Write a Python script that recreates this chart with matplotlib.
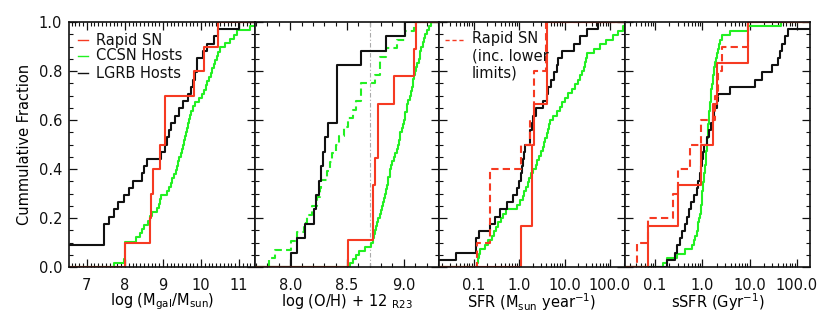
import numpy as np
import matplotlib
matplotlib.use('Agg')
import matplotlib.pyplot as plt
from matplotlib.ticker import MultipleLocator, FixedLocator, FixedFormatter, LogLocator, NullFormatter

plt.rcParams['font.family'] = ['DejaVu Sans']
plt.rcParams['mathtext.fontset'] = 'dejavusans'
plt.rcParams['font.size'] = 10.5

# ---------------- data ----------------
# Panel 1: log stellar mass
mass_rapid = [8.0, 8.65, 8.68, 8.74, 8.91, 9.06, 9.06, 9.81, 10.09, 10.44]
mass_lgrb = [6.0, 6.2, 6.4, 7.45, 7.45, 7.45, 7.57, 7.7, 7.82, 7.97, 8.1, 8.2,
             8.45, 8.5, 8.57, 8.95, 9.05, 9.1, 9.15, 9.22, 9.32, 9.42, 9.52,
             9.65, 9.75, 9.8, 9.85, 9.9, 9.9, 10.05, 10.15, 10.35, 10.45, 11.0]
mass_ccsn = [7.7, 7.97, 8.0, 8.0, 8.0, 8.0, 8.3, 8.4, 8.45, 8.5, 8.6, 8.65, 8.7,
             8.85, 8.9, 8.92, 8.95, 9.1, 9.15, 9.2, 9.25, 9.3, 9.33, 9.37, 9.4,
             9.43, 9.47, 9.5, 9.52, 9.55, 9.57, 9.6, 9.63, 9.66, 9.69, 9.72, 9.75,
             9.78, 9.85, 9.95, 10.02, 10.08, 10.12, 10.17, 10.22, 10.26, 10.3,
             10.34, 10.38, 10.42, 10.46, 10.5, 10.62, 10.75, 10.88, 10.95, 11.3, 11.6]

# Panel 2: metallicity log(O/H)+12 (R23)
oh_rapid = [8.51, 8.73, 8.73, 8.75, 8.77, 8.77, 8.91, 9.09, 9.11]
oh_lgrb = [8.01, 8.06, 8.13, 8.21, 8.23, 8.25, 8.27, 8.29, 8.31, 8.33,
           8.41, 8.41, 8.41, 8.41, 8.62, 8.84, 9.01]
oh_ccsn = [8.53, 8.555, 8.58, 8.61, 8.66, 8.71, 8.725, 8.74, 8.745, 8.755,
           8.76, 8.775, 8.79, 8.80, 8.81, 8.82, 8.83, 8.835, 8.845, 8.85,
           8.86, 8.865, 8.875, 8.88, 8.89, 8.90, 8.91, 8.925, 8.94, 8.945,
           8.955, 8.965, 8.97, 8.98, 8.99, 9.0, 9.01, 9.015, 9.025, 9.03,
           9.04, 9.055, 9.065, 9.07, 9.08, 9.085, 9.09, 9.10, 9.11, 9.12,
           9.13, 9.14, 9.145, 9.155, 9.165, 9.175, 9.19, 9.205, 9.22, 9.24]
oh_ccsn_dashed = [7.81, 7.87, 8.01, 8.06, 8.12, 8.15, 8.19, 8.24, 8.26, 8.27,
                  8.32, 8.35, 8.37, 8.40, 8.43, 8.47, 8.51, 8.55, 8.58, 8.62,
                  8.62, 8.75, 8.79, 8.79, 8.84, 8.94, 9.01, 9.09]
oh_solar = 8.7

# Panel 3: SFR (Msun/yr)
sfr_rapid = [1.08, 1.9, 1.9, 2.15, 4.2, 4.2]
sfr_rapid_lim = [0.12, 0.23, 0.23, 0.23, 1.08, 1.73, 2.15, 2.15, 4.0, 4.0]
sfr_lgrb = [0.01, 0.041, 0.115, 0.115, 0.131, 0.226, 0.29, 0.376, 0.53, 0.74,
            0.91, 1.0, 1.08, 1.13, 1.23, 1.29, 1.34, 1.73, 1.78, 1.89, 2.06,
            2.35, 3.42, 4.05, 4.4, 5.0, 5.9, 6.75, 7.3, 8.7, 15.8, 22.1, 31.0, 56.0]
sfr_ccsn = [0.12, 0.125, 0.13, 0.135, 0.175, 0.21, 0.25, 0.28, 0.31, 0.35,
            0.39, 0.45, 0.52, 0.9, 1.05, 1.2, 1.3, 1.42, 1.55, 1.65, 1.85,
            2.05, 2.3, 2.5, 2.8, 3.0, 3.3, 3.6, 3.8, 4.1, 4.4, 4.6, 4.9, 5.6,
            6.7, 7.8, 8.8, 10.0, 12.0, 14.5, 17.0, 20.0, 22.0, 24.0, 26.5,
            28.5, 30.0, 31.5, 45.0, 62.0, 80.0, 115.0, 150.0, 190.0, 260.0]

# Panel 4: sSFR (1/Gyr)
ssfr_rapid = [0.072, 0.31, 0.94, 1.71, 2.0, 9.4]
ssfr_rapid_lim = [0.041, 0.072, 0.244, 0.311, 0.55, 0.94, 1.86, 2.18, 2.56, 9.4]
ssfr_lgrb = [0.177, 0.265, 0.29, 0.33, 0.37, 0.43, 0.47, 0.52, 0.57, 0.68,
             0.76, 0.82, 0.9, 0.94, 1.0, 1.05, 1.1, 1.24, 1.4, 1.5, 1.7, 1.8,
             2.0, 2.18, 3.85, 13.0, 18.0, 29.3, 40.5, 44.0, 47.7, 55.0, 65.9, 250.0]
ssfr_ccsn = [0.15, 0.18, 0.29, 0.43, 0.6, 0.65, 0.7, 0.76, 0.79, 0.82, 0.86,
             0.89, 0.92, 0.95, 0.97, 0.99, 1.0, 1.03, 1.05, 1.07, 1.1, 1.12,
             1.15, 1.17, 1.19, 1.21, 1.23, 1.25, 1.28, 1.3, 1.32, 1.34, 1.37,
             1.39, 1.41, 1.43, 1.46, 1.49, 1.52, 1.55, 1.6, 1.66, 1.7, 1.75,
             1.8, 1.88, 1.95, 2.0, 2.1, 2.2, 2.35, 2.6, 3.8, 9.1, 46.0]

mass_ticks = [7, 8, 9, 10, 11]
mass_ticklabels = ['7', '8', '9', '10', '11']
oh_ticks = [8.0, 8.5, 9.0]
oh_ticklabels = ['8.0', '8.5', '9.0']
log_ticks = [0.1, 1.0, 10.0, 100.0]
log_ticklabels = ['0.1', '1.0', '10.0', '100.0']
y_ticks = [0.0, 0.2, 0.4, 0.6, 0.8, 1.0]
y_ticklabels = ['0.0', '0.2', '0.4', '0.6', '0.8', '1.0']

legend_labels = ['Rapid SN', 'CCSN Hosts', 'LGRB Hosts']
legend2_label = 'Rapid SN\n(inc. lower\nlimits)'

# ---------------- styling ----------------
RED = '#f63a22'
GREEN = '#22f022'
BLACK = '#111111'
LW = 1.5

W, H = 830, 312
fig = plt.figure(figsize=(W / 100, H / 100), dpi=100)
edges = [69, 255, 439, 625, 810]
ytop, ybot = 22, 267


def ecdf(ax, vals, lo, hi, **kw):
    v = np.sort(np.asarray(vals, float))
    n = len(v)
    xs = np.concatenate([[lo], v, [hi]])
    ys = np.concatenate([[0.0], np.arange(1, n + 1) / n, [1.0]])
    ax.step(xs, ys, where='post', **kw)


axes = []
for i in range(4):
    x0 = edges[i] / W
    w = (edges[i + 1] - edges[i]) / W
    ax = fig.add_axes([x0, 1 - ybot / H, w, (ybot - ytop) / H])
    ax.set_ylim(0, 1)
    ax.yaxis.set_major_locator(FixedLocator(y_ticks))
    ax.yaxis.set_minor_locator(MultipleLocator(0.05))
    ax.tick_params(which='both', direction='in', top=True, right=True,
                   labelsize=10.5, colors=BLACK)
    ax.tick_params(which='major', length=6, width=0.9)
    ax.tick_params(which='minor', length=3, width=0.8)
    ax.tick_params(axis='x', which='major', pad=8)
    ax.tick_params(axis='y', which='major', pad=5)
    for s in ax.spines.values():
        s.set_linewidth(1.2)
        s.set_color(BLACK)
    if i == 0:
        ax.yaxis.set_major_formatter(FixedFormatter(y_ticklabels))
        ax.set_ylabel('Cummulative Fraction', labelpad=5)
    else:
        ax.tick_params(axis='y', labelleft=False)
    axes.append(ax)

# Panel 1
ax = axes[0]
ax.set_xlim(6.53, 11.42)
ecdf(ax, mass_ccsn, 5.0, 13.0, color=GREEN, lw=LW)
ecdf(ax, mass_lgrb, 5.0, 13.0, color=BLACK, lw=LW)
ecdf(ax, mass_rapid, 5.0, 13.0, color=RED, lw=LW)
ax.xaxis.set_major_locator(FixedLocator(mass_ticks))
ax.xaxis.set_major_formatter(FixedFormatter(mass_ticklabels))
ax.xaxis.set_minor_locator(MultipleLocator(0.1))
ax.set_xlabel(r'log (M$_{\rm gal}$/M$_{\rm sun}$)', labelpad=-1)
# legend
for lab, col, yy in zip(legend_labels, [RED, GREEN, BLACK], [40, 56, 73]):
    ya = (ybot - yy) / (ybot - ytop)
    ax.plot([(78 - 69) / 186, (88 - 69) / 186], [ya, ya], color=col, lw=1.0,
            transform=ax.transAxes, clip_on=False)
    ax.text((96 - 69) / 186, ya, lab, transform=ax.transAxes, va='center',
            ha='left', fontsize=10.5, color=BLACK)

# Panel 2
ax = axes[1]
ax.set_xlim(7.69, 9.31)
ax.axvline(oh_solar, color='#aaaaaa', lw=0.8, ls=(0, (4, 2, 1, 2)))
ecdf(ax, oh_ccsn_dashed, 7.0, 10.0, color=GREEN, lw=LW, ls=(0, (3.5, 2)))
ecdf(ax, oh_ccsn, 7.0, 10.0, color=GREEN, lw=LW)
ecdf(ax, oh_lgrb, 7.0, 10.0, color=BLACK, lw=LW)
ecdf(ax, oh_rapid, 7.0, 10.0, color=RED, lw=LW)
ax.xaxis.set_major_locator(FixedLocator(oh_ticks))
ax.xaxis.set_major_formatter(FixedFormatter(oh_ticklabels))
ax.xaxis.set_minor_locator(MultipleLocator(0.1))
ax.set_xlabel(r'log (O/H) + 12 $_{\rm R23}$', labelpad=-1)

# Panel 3
ax = axes[2]
ax.set_xscale('log')
ax.set_xlim(0.0172, 215)
ecdf(ax, sfr_ccsn, 1e-3, 1e4, color=GREEN, lw=LW)
ecdf(ax, sfr_lgrb, 1e-3, 1e4, color=BLACK, lw=LW)
ecdf(ax, sfr_rapid_lim, 1e-3, 1e4, color=RED, lw=LW, ls=(0, (3.5, 2)))
ecdf(ax, sfr_rapid, 1e-3, 1e4, color=RED, lw=LW)
ax.set_xlabel(r'SFR (M$_{\rm sun}$ year$^{-1}$)', labelpad=-1)
ya = (ybot - 40) / (ybot - ytop)
ax.plot([(445 - 439) / 186, (465 - 439) / 186], [ya, ya], color=RED, lw=1.0,
        ls=(0, (3, 2)), transform=ax.transAxes, clip_on=False)
ax.text((472 - 439) / 186, ya + 0.035, legend2_label, transform=ax.transAxes,
        va='top', ha='left', fontsize=10.5, linespacing=1.15, color=BLACK)

# Panel 4
ax = axes[3]
ax.set_xscale('log')
ax.set_xlim(0.023, 190)
ecdf(ax, ssfr_ccsn, 1e-3, 1e4, color=GREEN, lw=LW)
ecdf(ax, ssfr_lgrb, 1e-3, 1e4, color=BLACK, lw=LW)
ecdf(ax, ssfr_rapid_lim, 1e-3, 1e4, color=RED, lw=LW, ls=(0, (3.5, 2)))
ecdf(ax, ssfr_rapid, 1e-3, 1e4, color=RED, lw=LW)
ax.set_xlabel(r'sSFR (Gyr$^{-1}$)', labelpad=-1)

for ax in axes[2:]:
    ax.xaxis.set_major_locator(FixedLocator(log_ticks))
    ax.xaxis.set_major_formatter(FixedFormatter(log_ticklabels))
    ax.xaxis.set_minor_locator(LogLocator(base=10, subs=np.arange(2, 10)))
    ax.xaxis.set_minor_formatter(NullFormatter())

fig.savefig('out.png', dpi=100)
